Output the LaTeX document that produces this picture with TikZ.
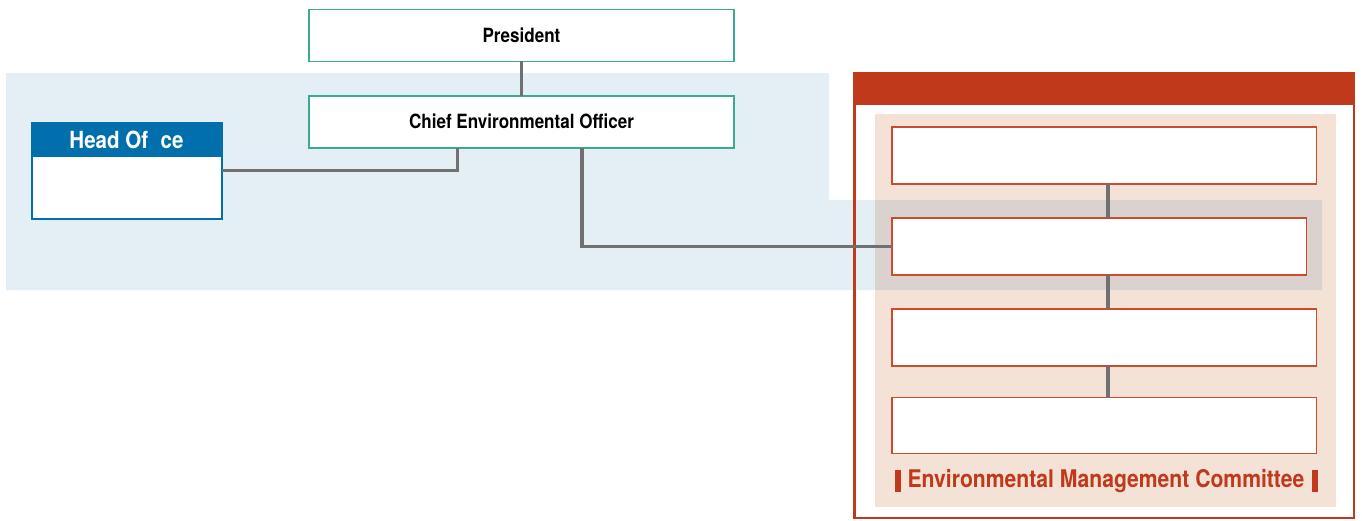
\documentclass[tikz,border=0pt]{standalone}
\usepackage{fontspec}
\newfontfamily\cnfont[FakeStretch=0.87]{TeX Gyre Heros}
\usetikzlibrary{positioning}
\definecolor{orgteal}{HTML}{3AAA92}
\definecolor{hoblue}{HTML}{006FAB}
\definecolor{hobg}{HTML}{E3EEF5}
\definecolor{emcred}{HTML}{C0391B}
\definecolor{emcline}{HTML}{CC4A2E}
\definecolor{emcbg}{HTML}{F4E2D7}
\definecolor{linkgray}{HTML}{707070}

\begin{document}
\begin{tikzpicture}[x=1pt, y=-1pt, inner sep=0pt, outer sep=0pt,
    orgbox/.style={draw=orgteal, line width=1.5pt, fill=white, rectangle, minimum width=425, minimum height=52,
        font=\cnfont\bfseries\fontsize{19.6}{22}\selectfont},
    emcbox/.style={draw=emcline, line width=1.5pt, fill=white, rectangle, minimum height=57},
    link/.style={draw=linkgray, line width=3.2pt}]
    \useasboundingbox (0,0) rectangle (1362,520);
    \fill[white] (0,0) rectangle (1362,520);

    % committee panel
    \node (emc) [draw=emcred, line width=2.5pt, rectangle, minimum width=499.5, minimum height=445] at (1104.25,295.5) {};
    \node (emcpanel) [fill=emcbg, rectangle, minimum width=461, minimum height=393] at (1105.5,310) {};

    % head office area
    \fill[hobg, blend mode=multiply] (6,73) -- (829,73) -- (829,200) -- (1322,200) -- (1322,290) -- (6,290) -- cycle;

    \draw[emcred, line width=2.5pt] (emc.north west) rectangle (emc.south east);
    \fill[emcred] (emc.north west) rectangle ([yshift=-32pt]emc.north east);

    \node (pres) [orgbox] at (521.5,35.3) {President};
    \node (ceo) [orgbox] at (521.5,121.8) {Chief Environmental Officer};

    \node (ho) [draw=hoblue, line width=2pt, fill=white, rectangle, minimum width=190, minimum height=96] at (126.5,170.5) {};
    \node (hohead) [fill=hoblue, text=white, rectangle, minimum width=190, minimum height=34, anchor=north,
        font=\cnfont\bfseries\fontsize{23.6}{26}\selectfont] at (ho.north) {Head Of\hphantom{fi}ce};
    \draw[hoblue, line width=2pt] (ho.north west) rectangle (ho.south east);

    \node (c1) [emcbox, minimum width=424.5] at (1104.25,155.5) {};
    \node (c2) [emcbox, minimum width=414.5] at (1099.25,246.5) {};
    \node (c3) [emcbox, minimum width=424.5] at (1104.25,337.5) {};
    \node (c4) [emcbox, minimum width=424.5, minimum height=56] at (1104.25,425.5) {};
    \coordinate (spine) at (1108,0);

    \node (emclabel) [text=emcred, font=\cnfont\bfseries\fontsize{24.3}{27}\selectfont] at (1106,481) {Environmental Management Committee};
    \node (barl) [fill=emcred, minimum width=5.5, minimum height=22, left=7pt of emclabel] {};
    \node (barr) [fill=emcred, minimum width=5.5, minimum height=22, right=8pt of emclabel] {};

    % connectors
    \draw[link] (pres) -- (ceo);
    \draw[link] (ho.east) -| ([xshift=-64pt]ceo.south);
    \draw[link] ([xshift=60.5pt]ceo.south) |- (c2.west);
    \draw[link] (c1.south -| spine) -- (c2.north -| spine);
    \draw[link] (c2.south -| spine) -- (c3.north -| spine);
    \draw[link] (c3.south -| spine) -- (c4.north -| spine);
\end{tikzpicture}
\end{document}
